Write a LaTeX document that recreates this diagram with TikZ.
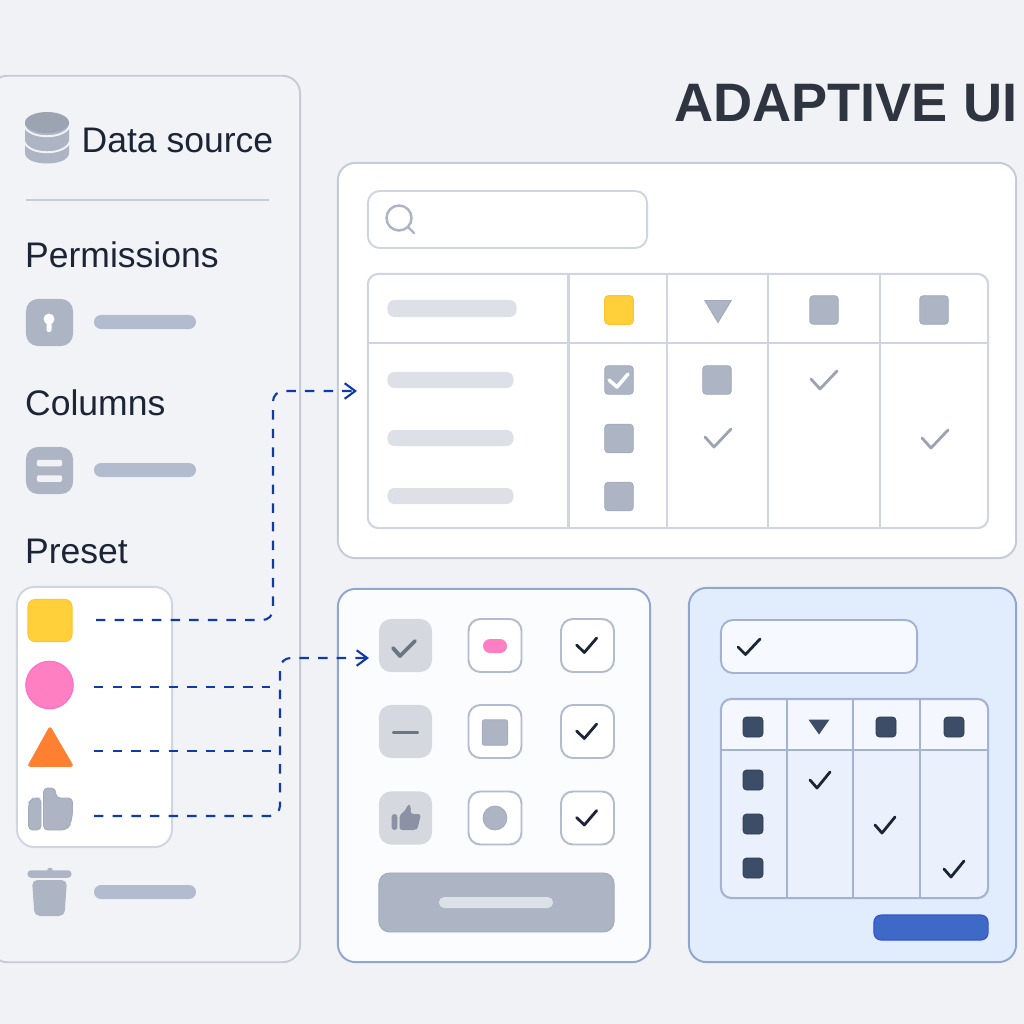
\documentclass[tikz,border=0pt]{standalone}
\usepackage{fontspec}
\setmainfont{Liberation Sans}
\usetikzlibrary{arrows.meta, shapes.geometric}
\definecolor{pagebg}{HTML}{F1F2F6}
\definecolor{panelline}{HTML}{C6CBD7}
\definecolor{softline}{HTML}{D0D5E1}
\definecolor{blueline}{HTML}{8FA6D0}
\definecolor{slate}{HTML}{ADB5C5}
\definecolor{slateedge}{HTML}{A2AABB}
\definecolor{barcol}{HTML}{B3BCCE}
\definecolor{palebar}{HTML}{DDE0E7}
\definecolor{greycell}{HTML}{D5D8DF}
\definecolor{inkcol}{HTML}{1B2536}
\definecolor{titleink}{HTML}{2F3540}
\definecolor{navy}{HTML}{3B4D67}
\definecolor{flowblue}{HTML}{0F3BA8}
\definecolor{sunny}{HTML}{FFD03A}
\definecolor{rosy}{HTML}{FF80C2}
\definecolor{tangerine}{HTML}{FF8030}
\definecolor{iconfill}{HTML}{FBFCFE}
\definecolor{bluefill}{HTML}{E1ECFD}
\definecolor{pillfill}{HTML}{F6F9FF}
\definecolor{smallfill}{HTML}{EAF1FD}
\definecolor{headfill}{HTML}{F4F7FE}
\definecolor{gridblue}{HTML}{A3B3D3}
\definecolor{actionblue}{HTML}{3F69C6}
\definecolor{markgrey}{HTML}{6B7685}
\definecolor{thumbgrey}{HTML}{8A92A3}
\tikzset{
  panel/.style={rectangle, rounded corners=5pt, inner sep=0pt, line width=0.55pt},
  cellbox/.style={rectangle, rounded corners=3.4pt, inner sep=0pt, minimum size=0.53cm, fill=white, draw=barcol, line width=0.55pt},
  greybox/.style={rectangle, rounded corners=3.4pt, inner sep=0pt, minimum size=0.53cm, fill=greycell},
  bar/.style={rectangle, rounded corners=2pt, inner sep=0pt, minimum width=1.02cm, minimum height=0.14cm, fill=barcol},
  palebar/.style={rectangle, rounded corners=2pt, inner sep=0pt, minimum width=1.26cm, minimum height=0.16cm, fill=palebar},
  slatesq/.style={rectangle, rounded corners=1pt, inner sep=0pt, minimum size=0.285cm, fill=slate, draw=slateedge, line width=0.25pt},
  navysq/.style={rectangle, rounded corners=1pt, inner sep=0pt, minimum size=0.2cm, fill=navy, draw=navy!80!black, line width=0.2pt},
  heading/.style={anchor=base west, inner sep=0pt, text=inkcol, font=\fontsize{10.1}{12}\selectfont},
  tickgrey/.style={draw=slate!90!black, line width=0.8pt, line cap=round, line join=round},
  tickink/.style={draw=inkcol, line width=0.8pt, line cap=round, line join=round},
  flow/.style={draw=flowblue, line width=0.6pt, dash pattern=on 2.7pt off 2.6pt, rounded corners=3pt},
  flowtip/.style={-{Straight Barb[length=3pt,width=4.4pt,line width=0.6pt]}}
}

\begin{document}
\begin{tikzpicture}[x=0.01cm, y=-0.01cm]
  \useasboundingbox (0,0) rectangle (1024,1024);
  \fill[pagebg] (0,0) rectangle (1024,1024);

  % Title
  \node[anchor=base east, inner sep=0pt, text=titleink, font=\fontsize{15.4}{20}\bfseries\selectfont] (title) at (1018,121) {ADAPTIVE UI};

  % Left panel
  \node[panel, draw=panelline, fill=pagebg!90!white, minimum width=3.1cm, minimum height=8.86cm] (sidepanel) at (145,519) {};
  \node[heading] (datasource) at (81,152) {Data source};
  \draw[panelline, line width=0.4pt] (26,200) -- (269,200);
  \node[heading] (permissions) at (24.5,267) {Permissions};
  \node[heading] (columns) at (24.5,415) {Columns};
  \node[heading] (preset) at (24.5,563) {Preset};

  % Database icon
  \fill[slate] (25,122) -- (25,153) .. controls (25,167) and (69,167) .. (69,153) -- (69,122) -- cycle;
  \fill[slate!90!black] (47,122.5) ellipse [x radius=22, y radius=10.5];
  \draw[pagebg, line width=0.55pt] (24,125) .. controls (28,140) and (66,140) .. (70,125);
  \draw[pagebg, line width=0.55pt] (24,141) .. controls (28,156) and (66,156) .. (70,141);

  % Permissions row
  \node[rectangle, rounded corners=3.4pt, inner sep=0pt, minimum size=0.47cm, fill=slate] (keybox) at (49.5,322.5) {};
  \fill[white] (49,319) circle (5.5);
  \fill[white, rounded corners=0.6pt] (46.5,320) rectangle (51.5,332);
  \node[bar] (permbar) at (145,322) {};

  % Columns row
  \node[rectangle, rounded corners=3.4pt, inner sep=0pt, minimum size=0.47cm, fill=slate] (colbox) at (49.5,470.5) {};
  \node[rectangle, rounded corners=0.4pt, inner sep=0pt, minimum width=0.25cm, minimum height=0.065cm, fill=pagebg] (colupper) at (49.5,463) {};
  \node[rectangle, rounded corners=0.4pt, inner sep=0pt, minimum width=0.25cm, minimum height=0.065cm, fill=pagebg] (collower) at (49.5,478.5) {};
  \node[bar] (colbar) at (145,470) {};

  % Preset card
  \node[panel, draw=softline, fill=white, minimum width=1.55cm, minimum height=2.6cm] (presetcard) at (94.5,717) {};
  \node[rectangle, rounded corners=2pt, inner sep=0pt, minimum width=0.44cm, minimum height=0.42cm, fill=sunny, draw=sunny!85!orange, line width=0.3pt] (yellowsq) at (50,620.5) {};
  \node[circle, inner sep=0pt, minimum size=0.475cm, fill=rosy, draw=rosy!85!magenta, line width=0.3pt] (pinkdot) at (49.5,685) {};
  \filldraw[tangerine, line width=1pt, line join=round] (50,729) -- (30,765) -- (71,765) -- cycle;
  \filldraw[fill=slate, draw=slateedge, line width=0.25pt, rounded corners=1.2pt] (28.5,830) -- (28.5,803) -- (33,798) -- (41,798) -- (41,830) -- cycle;
  \filldraw[fill=slate, draw=slateedge, line width=0.25pt, rounded corners=1.2pt] (43.5,830) -- (43.5,788) -- (55.5,788) -- (56,798) -- (72.5,798) -- (72.5,815) -- (70,825) -- (66,830) -- cycle;

  % Bin
  \fill[slate] (50,870.5) circle (2.8);
  \node[rectangle, rounded corners=1pt, inner sep=0pt, minimum width=0.44cm, minimum height=0.075cm, fill=slate] (binlid) at (49.5,874) {};
  \fill[slate, rounded corners=1.5pt] (32,880) -- (67,880) -- (64.5,916) -- (34.5,916) -- cycle;
  \node[bar] (binbar) at (145,892) {};

  % Table panel
  \node[panel, draw=panelline, fill=white, minimum width=6.78cm, minimum height=3.95cm] (tablepanel) at (677,360.5) {};
  \node[rectangle, rounded corners=3.4pt, inner sep=0pt, draw=softline, fill=white, line width=0.55pt, minimum width=2.79cm, minimum height=0.57cm] (searchbox) at (507.5,219.5) {};
  \draw[slate, line width=0.7pt, line cap=round] (399,218) circle (12.5) (408,227) -- (414,233);
  \node[rectangle, rounded corners=3pt, inner sep=0pt, draw=softline, line width=0.6pt, minimum width=6.2cm, minimum height=2.54cm] (bigtable) at (678,401) {};
  \draw[softline, line width=0.6pt] (368,343) -- (988,343);
  \foreach \x in {568.5,667,768,880}
    \draw[softline, line width=0.6pt] (\x,274) -- (\x,528);
  \node[palebar, minimum width=1.29cm, minimum height=0.17cm] (rowhead) at (452,308.5) {};
  \node[palebar] (rowa) at (450.5,380) {};
  \node[palebar] (rowb) at (450.5,438) {};
  \node[palebar] (rowc) at (450.5,496) {};
  \node[rectangle, rounded corners=1pt, inner sep=0pt, minimum size=0.285cm, fill=sunny, draw=sunny!85!orange, line width=0.3pt] (hdryellow) at (619,310) {};
  \node[isosceles triangle, isosceles triangle apex angle=62, shape border rotate=270, inner sep=0pt, minimum height=0.22cm, fill=slate, draw=slateedge, line width=0.25pt] (hdrtri) at (718,308) {};
  \node[slatesq] (hdrc) at (824,310) {};
  \node[slatesq] (hdrd) at (934,310) {};
  \node[slatesq] (checksq) at (619,380) {};
  \draw[white, line width=1pt, line cap=round, line join=round] (609,380) -- (617,387) -- (628,374);
  \node[slatesq] (cella) at (717,380) {};
  \node[slatesq] (cellb) at (619,438.5) {};
  \node[slatesq] (cellc) at (619,496.5) {};
  \foreach \x/\y in {823/380,717/438,934/439}
    \draw[tickgrey] ({\x-12},{\y-1}) -- ({\x-3},{\y+9}) -- ({\x+14},{\y-9});

  % Icon panel
  \node[panel, draw=blueline, fill=iconfill, minimum width=3.12cm, minimum height=3.73cm] (iconpanel) at (494,775.5) {};
  \node[greybox] (greya) at (405.5,645.5) {};
  \node[greybox] (greyb) at (405.5,731.5) {};
  \node[greybox] (greyc) at (405.5,818) {};
  \draw[markgrey, line width=1.1pt, line cap=round, line join=round] (393,648) -- (400,656) -- (415,641);
  \draw[markgrey, line width=1.1pt, line cap=round] (394,732.5) -- (417,732.5);
  \fill[thumbgrey, rounded corners=0.8pt] (391.7,814) rectangle (397.3,830);
  \fill[thumbgrey, rounded corners=0.8pt] (399.5,830) -- (399.5,815) -- (405,811) -- (408,804) -- (411,806) -- (410.5,814) -- (421,814) -- (418,827) -- (416,830) -- cycle;
  \foreach \y [count=\i] in {645.5,731.5,818} {
    \node[cellbox] (mid\i) at (495,\y) {};
    \node[cellbox] (right\i) at (587.5,\y) {};
    \draw[tickink] (576.7,{\y-0.5}) -- (584.3,{\y+7}) -- (596.7,{\y-7.5});
  }
  \node[rectangle, rounded corners=2pt, inner sep=0pt, minimum width=0.24cm, minimum height=0.14cm, fill=rosy] (minipill) at (495,646) {};
  \node[rectangle, rounded corners=0.6pt, inner sep=0pt, minimum size=0.255cm, fill=slate, draw=slateedge, line width=0.2pt] (minisq) at (495,732.5) {};
  \node[circle, inner sep=0pt, minimum size=0.24cm, fill=slate, draw=slateedge, line width=0.2pt] (minidot) at (495,818) {};
  \node[rectangle, rounded corners=3pt, inner sep=0pt, minimum width=2.35cm, minimum height=0.59cm, fill=slate, draw=slateedge, line width=0.25pt] (bigbutton) at (496.5,902.5) {};
  \node[rectangle, rounded corners=1.5pt, inner sep=0pt, minimum width=1.14cm, minimum height=0.11cm, fill=palebar] (buttonbar) at (496,902.5) {};

  % Blue panel
  \node[panel, draw=blueline, fill=bluefill, minimum width=3.27cm, minimum height=3.74cm] (bluepanel) at (852.5,775) {};
  \node[rectangle, rounded corners=3.4pt, inner sep=0pt, fill=pillfill, draw=gridblue, line width=0.55pt, minimum width=1.96cm, minimum height=0.53cm] (pickerpill) at (819,646.5) {};
  \draw[tickink] (738,647) -- (745.5,654.5) -- (760,639);
  \node[rectangle, rounded corners=3pt, inner sep=0pt, fill=smallfill, minimum width=2.67cm, minimum height=1.99cm] (smalltable) at (854.5,798.5) {};
  \fill[headfill] (721,750) [rounded corners=3pt] -- (721,699) -- (988,699) [sharp corners] -- (988,750) -- cycle;
  \node[rectangle, rounded corners=3pt, inner sep=0pt, draw=gridblue, line width=0.6pt, minimum width=2.67cm, minimum height=1.99cm] (smallframe) at (854.5,798.5) {};
  \draw[gridblue, line width=0.6pt] (721,750) -- (988,750);
  \foreach \x in {787,853,920}
    \draw[gridblue, line width=0.6pt] (\x,699) -- (\x,898);
  \node[navysq] (navya) at (753,727) {};
  \node[isosceles triangle, isosceles triangle apex angle=70, shape border rotate=270, inner sep=0pt, minimum height=0.15cm, fill=navy] (navytri) at (819,725) {};
  \node[navysq] (navyb) at (886,727) {};
  \node[navysq] (navyc) at (954,727) {};
  \node[navysq] (navyd) at (753,780) {};
  \node[navysq] (navye) at (753,824) {};
  \node[navysq] (navyf) at (753,868) {};
  \foreach \x/\y in {820/780,885/825,954/869}
    \draw[tickink] ({\x-10},{\y}) -- ({\x-3},{\y+8}) -- ({\x+10},{\y-8});
  \node[rectangle, rounded corners=2pt, inner sep=0pt, minimum width=1.14cm, minimum height=0.25cm, fill=actionblue, draw=actionblue!80!blue, line width=0.3pt] (bluebutton) at (931,927.5) {};

  % Dashed links
  \coordinate (yellowout) at (96,620);
  \coordinate (pinkout) at (94,687);
  \coordinate (orangeout) at (94,751);
  \coordinate (thumbout) at (94,816);
  \coordinate (pinkjoin) at (270,687);
  \coordinate (orangejoin) at (277,751);
  \coordinate (tablein) at (357,391);
  \coordinate (iconin) at (369,658);
  \draw[flow, flowtip] (yellowout) -| (273,391) -- (tablein);
  \draw[flow, flowtip] (thumbout) -| (280,658) -- (iconin);
  \draw[flow] (pinkout) -- (pinkjoin);
  \draw[flow] (orangeout) -- (orangejoin);
\end{tikzpicture}
\end{document}
